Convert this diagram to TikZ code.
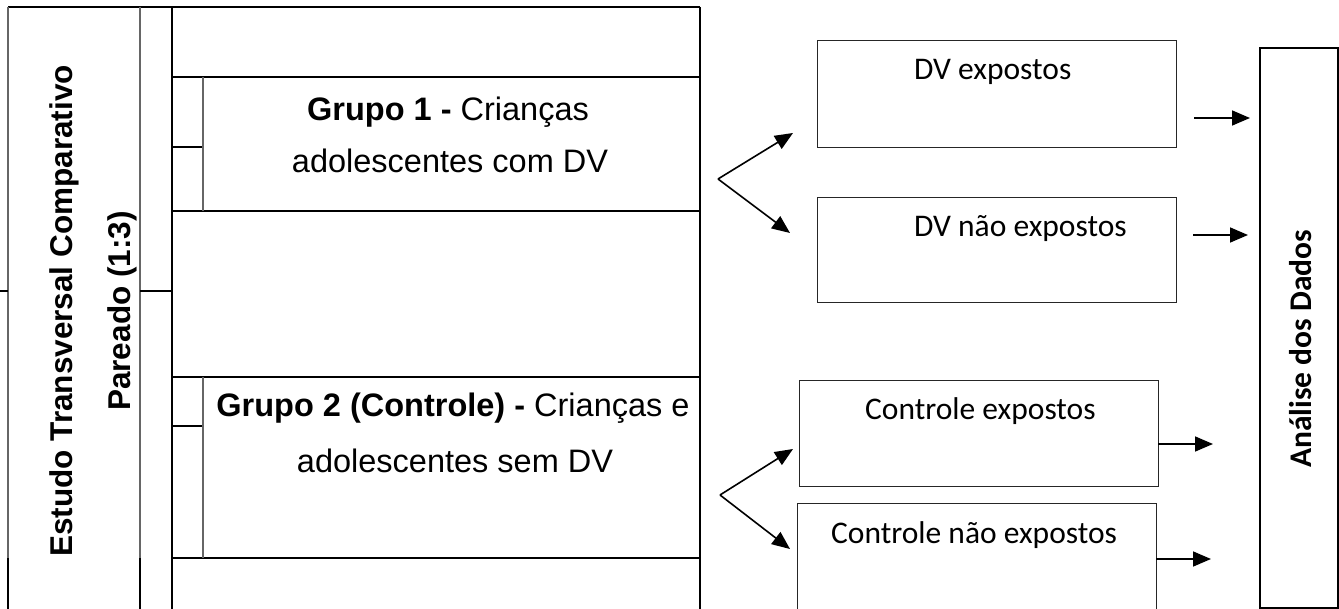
\documentclass[tikz,border=0pt]{standalone}
\usepackage{fontspec}
\setmainfont{Liberation Sans}
\newfontfamily\calfont{Carlito}
\usetikzlibrary{arrows.meta}
\tikzset{
  blk/.style={line width=2pt, black},
  gry/.style={line width=1.3pt, black!60},
  txt/.style={inner sep=0pt, font=\fontsize{32.5}{38}\selectfont},
  vtxt/.style={inner sep=0pt, rotate=90, anchor=base, font=\bfseries\fontsize{31.5}{38}\selectfont},
  rtxt/.style={inner sep=0pt, font=\calfont\fontsize{31.5}{37}\selectfont},
  rbox/.style={draw, line width=1.4pt, black!85, inner sep=0pt, anchor=north west},
  arr/.style={line width=1.6pt, -{Triangle[length=18pt,width=15pt]}},
}
\begin{document}
\begin{tikzpicture}[x=1pt,y=-1pt]
\useasboundingbox (0,0) rectangle (1339,609);
% ---- left table ----
\draw[blk] (8,7) -- (700,7);
\draw[gry] (8,7) -- (8,558);
\draw[blk] (8,558) -- (8,612);
\draw[gry] (140,7) -- (140,558);
\draw[blk] (140,558) -- (140,612);
\draw[blk] (172,7) -- (172,612);
\draw[blk] (700,7) -- (700,612);
\draw[blk] (172,77) -- (700,77);
\draw[blk] (172,211) -- (700,211);
\draw[blk] (172,377) -- (700,377);
\draw[blk] (172,558) -- (700,558);
\draw[blk] (172,147) -- (203,147);
\draw[blk] (172,426) -- (203,426);
\draw[gry] (203,77) -- (203,211);
\draw[gry] (203,377) -- (203,558);
\draw[blk] (140,291) -- (172,291);
\draw[blk] (0,291) -- (8,291);
% vertical titles
\node[vtxt] (estudo) at (72,311) {Estudo Transversal Comparativo};
\node[vtxt] (pareado) at (130,311) {Pareado (1:3)};
% group texts
\node[txt, anchor=base] (g1a) at (448,121) {\textbf{Grupo 1 -} Crianças};
\node[txt, anchor=base] (g1b) at (450,173) {adolescentes com DV};
\node[txt, anchor=base] (g2a) at (453,417) {\textbf{Grupo 2 (Controle) -} Crianças e};
\node[txt, anchor=base] (g2b) at (455,472) {adolescentes sem DV};
% ---- right boxes ----
\node[rbox, minimum width=359pt, minimum height=107pt] (dve) at (817,40) {};
\node[rbox, minimum width=359pt, minimum height=105pt] (dvn) at (817,197) {};
\node[rbox, minimum width=359pt, minimum height=106pt] (cte) at (799,380) {};
\node[rbox, minimum width=359pt, minimum height=106pt] (ctn) at (797,503) {};
\node[rbox, draw=black, line width=2pt, minimum width=78pt, minimum height=560pt] (ana) at (1259,47) {};
\node[rtxt, anchor=base west] (dvet) at (914,80) {DV expostos};
\node[rtxt, anchor=base west] (dvnt) at (914,237) {DV não expostos};
\node[rtxt, anchor=base west] (ctet) at (865,420) {Controle expostos};
\node[rtxt, anchor=base west] (ctnt) at (831,543) {Controle não expostos};
\node[rtxt, rotate=90, anchor=base, font=\calfont\bfseries\fontsize{31.5}{37}\selectfont] (anat) at (1311,349) {Análise dos Dados};
% ---- forks ----
\coordinate (f1) at (718,179);
\coordinate (f1a) at (793,133);
\coordinate (f1b) at (790,233);
\coordinate (f2) at (720,495);
\coordinate (f2a) at (793,449);
\coordinate (f2b) at (790,549);
\draw[arr] (f1) -- (f1a);
\draw[arr] (f1) -- (f1b);
\draw[arr] (f2) -- (f2a);
\draw[arr] (f2) -- (f2b);
% ---- arrows to analysis ----
\coordinate (r1s) at (1194,118); \coordinate (r1e) at (1250,118);
\coordinate (r2s) at (1193,235); \coordinate (r2e) at (1248,235);
\coordinate (r3s) at (1158,444); \coordinate (r3e) at (1213,444);
\coordinate (r4s) at (1156,559); \coordinate (r4e) at (1211,559);
\draw[arr] (r1s) -- (r1e);
\draw[arr] (r2s) -- (r2e);
\draw[arr] (r3s) -- (r3e);
\draw[arr] (r4s) -- (r4e);
\end{tikzpicture}
\end{document}
